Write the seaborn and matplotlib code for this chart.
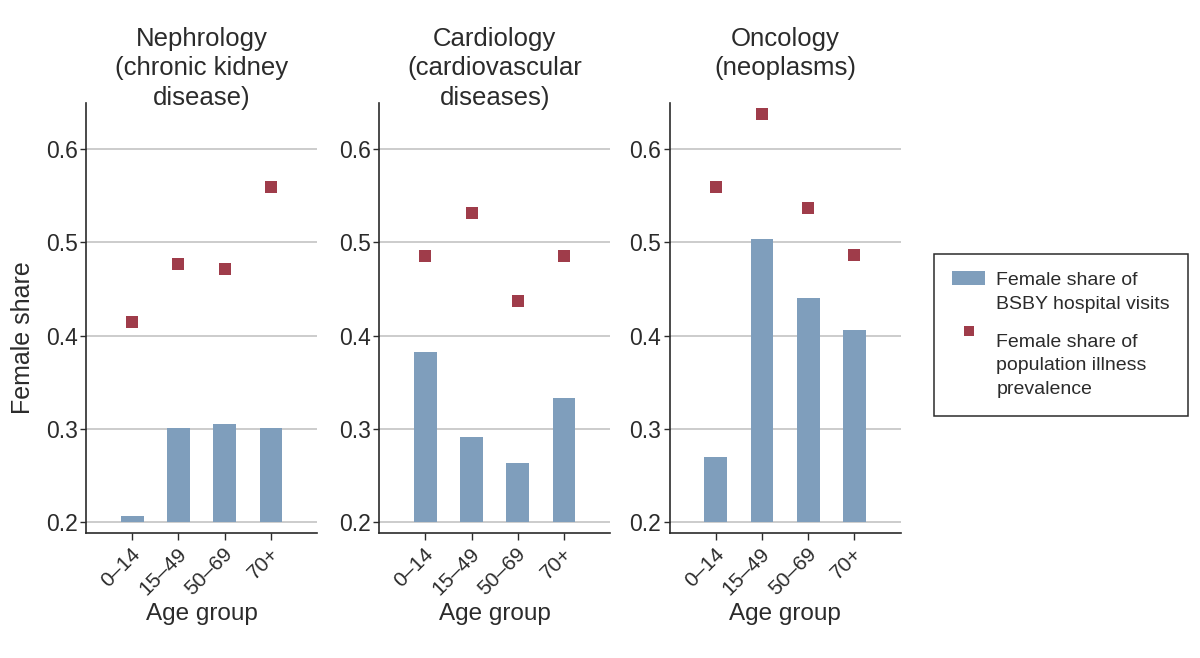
import pandas as pd
import matplotlib
matplotlib.use("Agg")
import matplotlib.pyplot as plt
import matplotlib.transforms as mtransforms
from matplotlib.patches import Patch
from matplotlib.lines import Line2D
import seaborn as sns

# values
age_groups = ['0–14', '15–49', '50–69', '70+']
panel_titles = ['Nephrology\n(chronic kidney\ndisease)',
                'Cardiology\n(cardiovascular\ndiseases)',
                'Oncology\n(neoplasms)']
visits_nephrology = [0.206, 0.301, 0.305, 0.301]
visits_cardiology = [0.382, 0.291, 0.263, 0.333]
visits_oncology = [0.270, 0.504, 0.440, 0.406]
prevalence_nephrology = [0.414, 0.477, 0.471, 0.559]
prevalence_cardiology = [0.485, 0.532, 0.437, 0.485]
prevalence_oncology = [0.559, 0.638, 0.537, 0.486]
y_ticks = [0.2, 0.3, 0.4, 0.5, 0.6]
legend_labels = ['Female share of\nBSBY hospital visits',
                 'Female share of\npopulation illness\nprevalence']

#build one long table for seaborn
visits = [visits_nephrology, visits_cardiology, visits_oncology]
prevalence = [prevalence_nephrology, prevalence_cardiology, prevalence_oncology]
frames = []
for n in range(len(panel_titles)):
    frames.append(pd.DataFrame({'panel': panel_titles[n],
                                'age': age_groups,
                                'visits': visits[n],
                                'prevalence': prevalence[n]}))
data = pd.concat(frames, ignore_index=True)

#styling
sns.set_style("white")
plt.rcParams['font.family'] = ['Liberation Sans', 'DejaVu Sans']
text_color = '#2b2b2b'
bar_color = '#7f9ebc'
dot_color = '#9f3c4a'
grid_color = '#c8c8c8'
BAR_BASE = 0.2

fig = plt.figure(figsize=(12, 6.58), dpi=100)
lefts = [0.0717, 0.316, 0.558]

for n in range(len(panel_titles)):
    ax = fig.add_axes([lefts[n], 0.19, 0.1925, 0.654])
    sub = data[data['panel'] == panel_titles[n]]

    sns.barplot(data=sub, x='age', y='visits', order=age_groups, color=bar_color,
                saturation=1, width=0.49, errorbar=None, linewidth=0, ax=ax, zorder=2)
    #bars start at the 0.2 gridline, not at zero
    for bar in ax.patches:
        top = bar.get_y() + bar.get_height()
        bar.set_y(BAR_BASE)
        bar.set_height(top - BAR_BASE)

    sns.stripplot(data=sub, x='age', y='prevalence', order=age_groups, jitter=False,
                  marker='s', size=8.3, color=dot_color, linewidth=0, ax=ax, zorder=3)

    ax.set_xlim(-1, 4)
    ax.set_ylim(0.188, 0.65)
    ax.set_yticks(y_ticks)
    ax.set_yticklabels(['{:.1f}'.format(v) for v in y_ticks])
    ax.yaxis.grid(True, color=grid_color, linewidth=1.3, zorder=0)
    ax.set_axisbelow(True)

    for side in ['top', 'right']:
        ax.spines[side].set_visible(False)
    for side in ['left', 'bottom']:
        ax.spines[side].set_color(text_color)
        ax.spines[side].set_linewidth(1.2)

    ax.tick_params(axis='y', length=4, width=1, color=text_color, pad=2,
                   labelsize=16.5, labelcolor=text_color, left=True)
    ax.tick_params(axis='x', length=5, width=1, color=text_color, pad=8,
                   labelsize=15, labelcolor=text_color, bottom=True)
    shift = mtransforms.ScaledTranslation(5 / 100, 0, fig.dpi_scale_trans)
    for lab in ax.get_xticklabels():
        lab.set_rotation(45)
        lab.set_ha('right')
        lab.set_va('center')
        lab.set_rotation_mode('anchor')
        lab.set_transform(lab.get_transform() + shift)

    ax.set_ylabel('')
    ax.set_xlabel('Age group', fontsize=17.5, color=text_color)
    ax.xaxis.set_label_coords(0.5, -0.163)

    #titles are top-aligned across panels
    fig.text(lefts[n] + 0.1925 / 2, 0.9594, panel_titles[n], ha='center', va='top',
             fontsize=18.5, color=text_color, linespacing=1.3)

fig.text(0.019, 0.487, 'Female share', rotation=90, ha='center', va='center',
         fontsize=18, color=text_color)

handles = [Patch(facecolor=bar_color, edgecolor='none'),
           Line2D([], [], marker='s', linestyle='none', markersize=7.2,
                  markerfacecolor=dot_color, markeredgewidth=0)]
leg = fig.legend(handles=handles, labels=legend_labels, loc='upper left',
                 bbox_to_anchor=(0.778, 0.614), frameon=True, fancybox=False,
                 edgecolor=text_color, framealpha=1, fontsize=14,
                 handlelength=1.7, handleheight=0.72, borderpad=0.95,
                 labelspacing=1.1, handletextpad=0.57, borderaxespad=0)
leg.get_frame().set_linewidth(1.1)
for t in leg.get_texts():
    t.set_color(text_color)
    t.set_linespacing(1.48)

#line the keys up with the first line of their labels
patch_key, dot_key = leg.legend_handles
patch_key.set_y(patch_key.get_y() + 10.3)
dot_key.set_ydata([y + 25 for y in dot_key.get_ydata()])

plt.savefig('out.png', dpi=100)
